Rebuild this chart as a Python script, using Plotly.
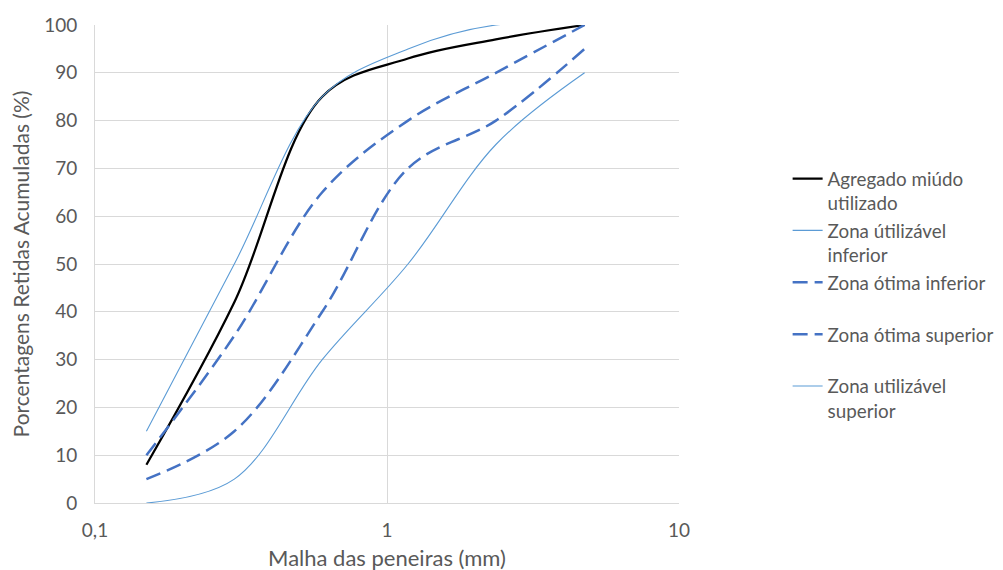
import plotly.graph_objects as go

sieves = [0.15, 0.3, 0.6, 1.18, 2.36, 4.75]
agregado = [8, 42, 85, 93, 97, 100]
util_inferior = [15, 50, 85, 95, 100, 100]
otima_inferior = [10, 35, 65, 80, 90, 100]
otima_superior = [5, 15, 40, 70, 80, 95]
util_superior = [0, 5, 30, 50, 75, 90]

names = ["Agregado miúdo<br>utilizado", "Zona útilizável<br>inferior",
         "Zona ótima inferior<br>\u00a0", "Zona ótima superior<br>\u00a0",
         "Zona utilizável<br>superior"]

FONT = "Lato"
GRAY = "#595959"

fig = go.Figure()
series = [
    (agregado, dict(color="#000000", width=2.25)),
    (util_inferior, dict(color="#5B9BD5", width=1.1)),
    (otima_inferior, dict(color="#4472C4", width=2.5, dash="15px,7px")),
    (otima_superior, dict(color="#4472C4", width=2.5, dash="15px,7px")),
    (util_superior, dict(color="#5B9BD5", width=1.1)),
]
for (vals, line), name in zip(series, names):
    fig.add_trace(go.Scatter(x=sieves, y=vals, mode="lines", name=name,
                             line=dict(shape="spline", smoothing=1, **line)))

fig.update_layout(
    width=1003, height=570,
    margin=dict(l=87, r=328, t=17, b=75),
    paper_bgcolor="white", plot_bgcolor="white",
    font=dict(family=FONT, size=19, color=GRAY),
    xaxis=dict(type="log", range=[-1, 1], tickvals=[0.1, 1, 10],
               ticktext=["0,1", "1", "10"], showgrid=True, gridcolor="#d9d9d9",
               gridwidth=1, showline=True, linecolor="#d9d9d9", linewidth=1,
               zeroline=False, ticks="", ticklen=0, automargin=False,
               ticklabelstandoff=10, tickfont=dict(size=19, color=GRAY),
               title=dict(text="Malha das peneiras (mm)", standoff=10,
                          font=dict(size=22, color=GRAY))),
    yaxis=dict(range=[0, 100], dtick=10, showgrid=True, gridcolor="#d9d9d9",
               gridwidth=1, showline=True, linecolor="#d9d9d9", linewidth=1,
               zeroline=False, ticks="", ticklen=0, automargin=False,
               ticklabelstandoff=13, tickfont=dict(size=19, color=GRAY),
               title=dict(text="Porcentagens Retidas Acumuladas (%)", standoff=10,
                          font=dict(size=21, color=GRAY))),
    legend=dict(x=1.186, xanchor="left", y=0.718, yanchor="top", valign="top",
                font=dict(size=18.8, color=GRAY), tracegroupgap=0,
                bgcolor="rgba(0,0,0,0)"),
)

fig.write_html("out.html")
